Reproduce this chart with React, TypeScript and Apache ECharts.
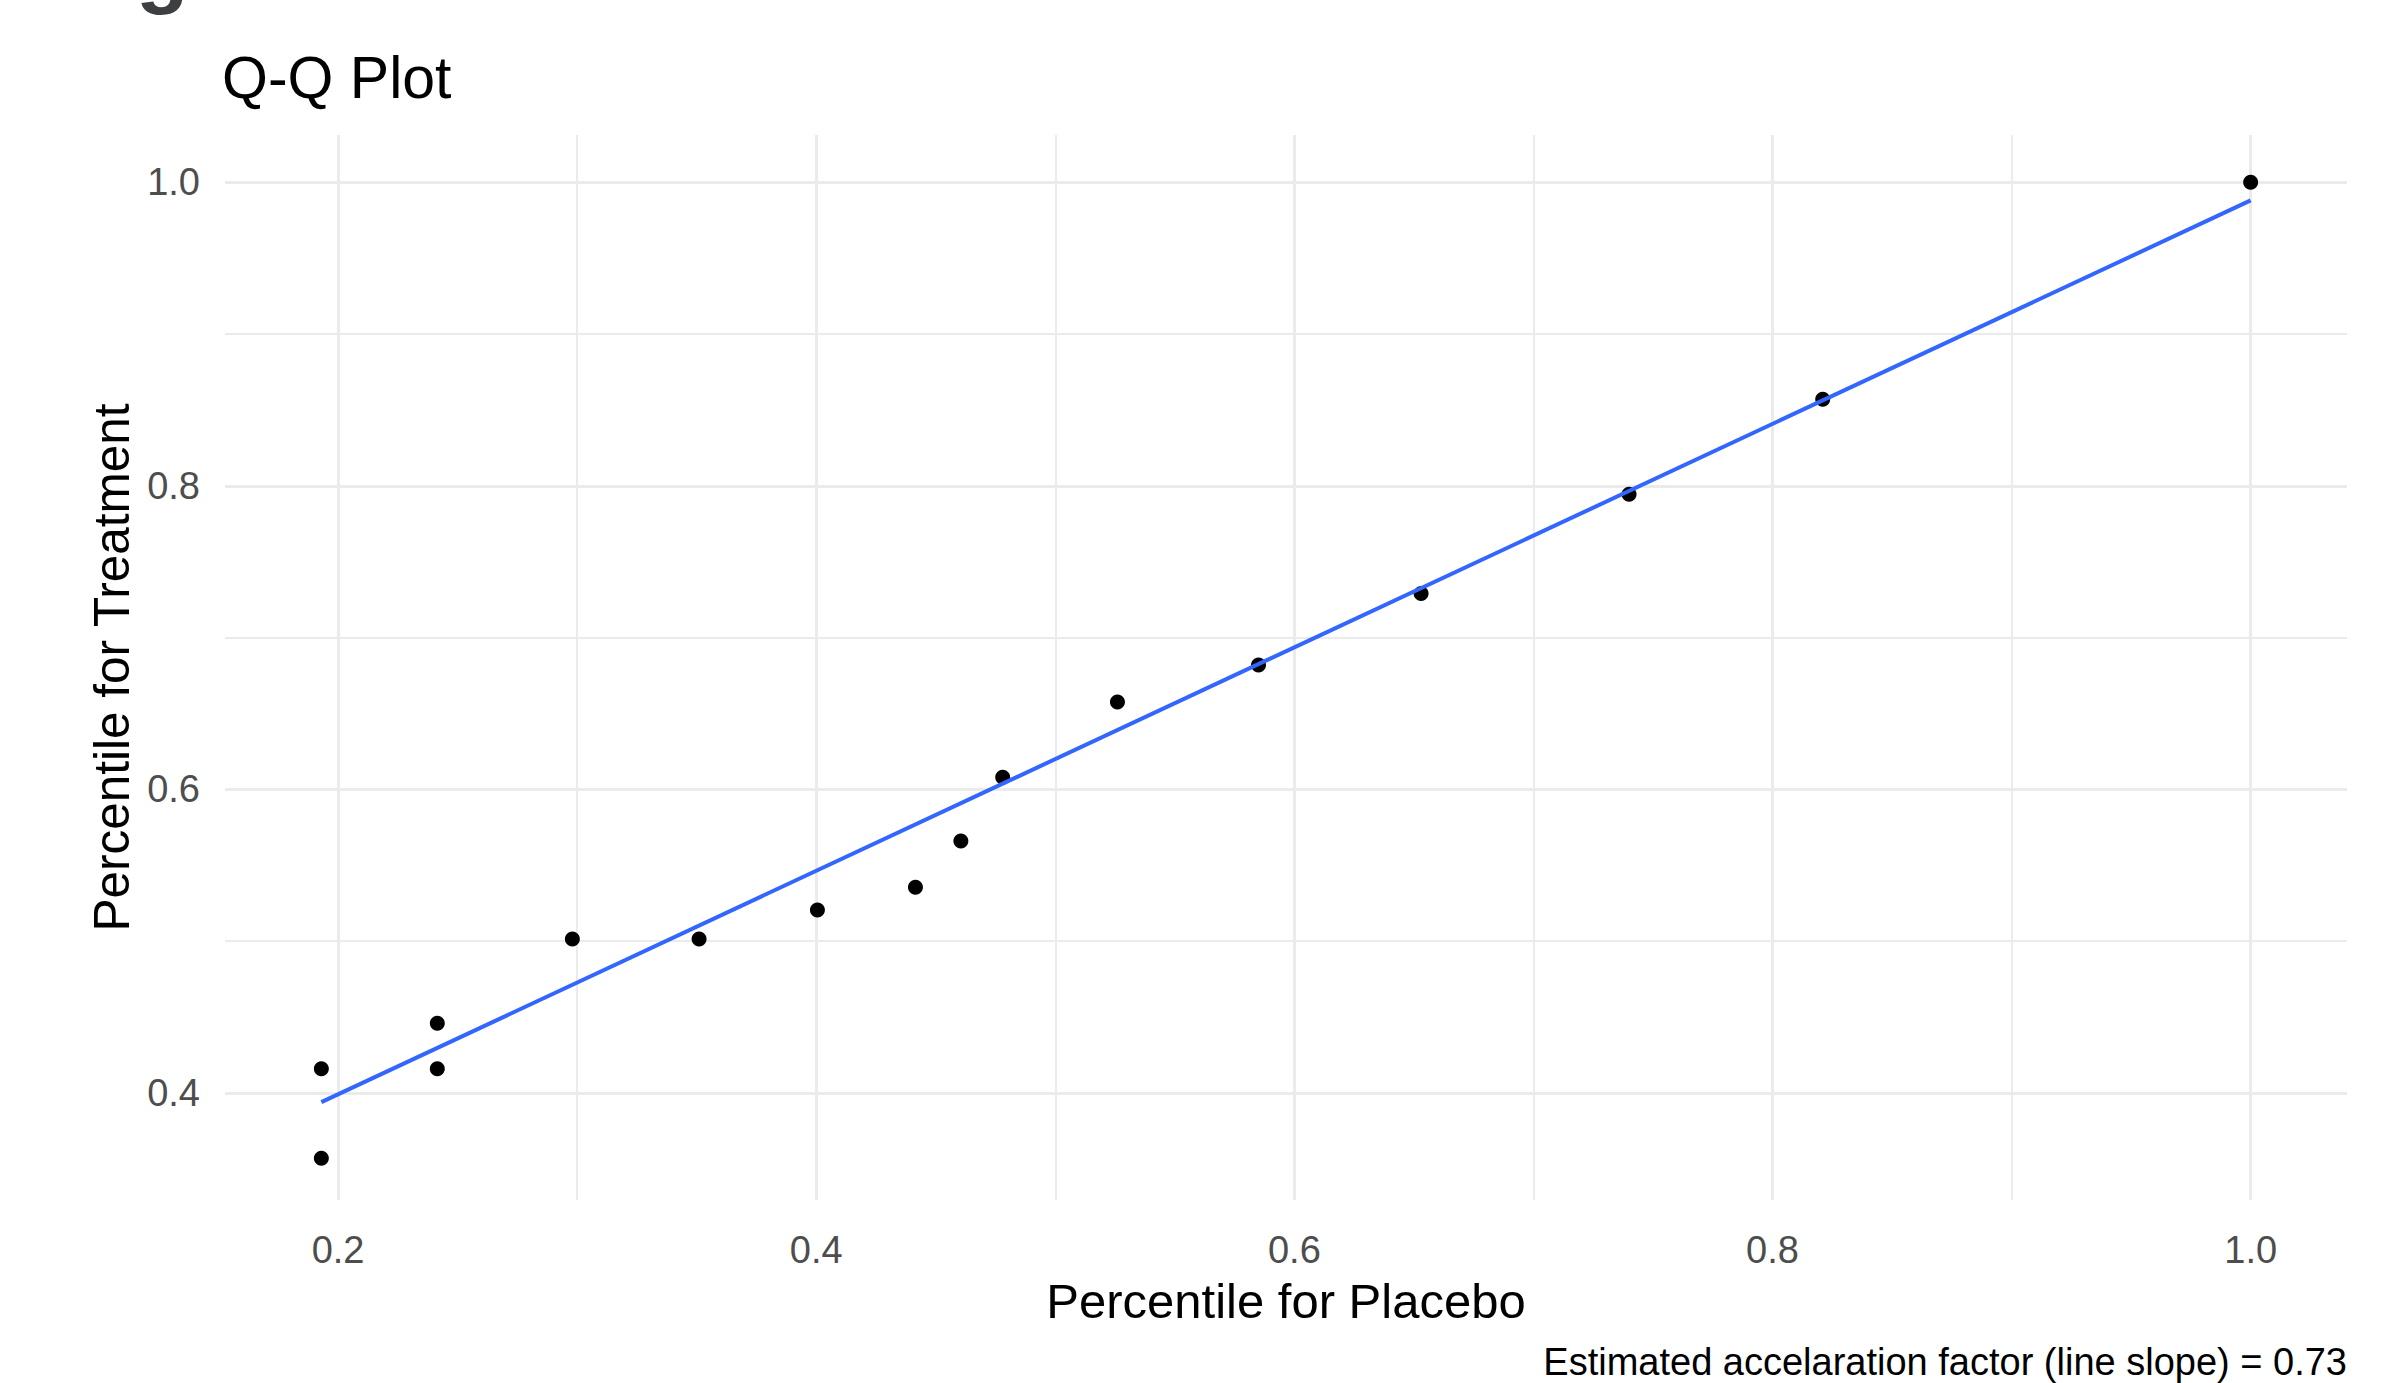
import React, { useEffect, useRef } from "react";
import * as echarts from "echarts";

// Data
const placeboPct = [0.193, 0.193, 0.2415, 0.2415, 0.298, 0.351, 0.4005, 0.4415, 0.4605, 0.478, 0.526, 0.585, 0.653, 0.74, 0.821, 1.0];
const treatmentPct = [0.416, 0.357, 0.446, 0.416, 0.5015, 0.5015, 0.5205, 0.5355, 0.566, 0.608, 0.6575, 0.682, 0.729, 0.7945, 0.857, 1.0];
const fitX = [0.193, 1.0];
const fitY = [0.394, 0.988];
const xMajorTicks = [0.2, 0.4, 0.6, 0.8, 1.0];
const xMinorTicks = [0.3, 0.5, 0.7, 0.9];
const yMajorTicks = [0.4, 0.6, 0.8, 1.0];
const yMinorTicks = [0.5, 0.7, 0.9];
const xRange = [0.1527, 1.0403];
const yRange = [0.3295, 1.0311];

const FONT = "'Liberation Sans', Arial, Helvetica, sans-serif";
const GRID_COLOR = "#EBEBEB";

export default function App() {
  const ref = useRef<HTMLDivElement>(null);

  useEffect(() => {
    if (!ref.current) return;
    const chart = echarts.init(ref.current, null, { renderer: "svg" });

    const gridLines = [
      ...xMajorTicks.map((v) => ({ xAxis: v, lineStyle: { color: GRID_COLOR, width: 3, type: "solid" } })),
      ...xMinorTicks.map((v) => ({ xAxis: v, lineStyle: { color: GRID_COLOR, width: 2, type: "solid" } })),
      ...yMajorTicks.map((v) => ({ yAxis: v, lineStyle: { color: GRID_COLOR, width: 3, type: "solid" } })),
      ...yMinorTicks.map((v) => ({ yAxis: v, lineStyle: { color: GRID_COLOR, width: 2, type: "solid" } })),
    ];

    const option: any = {
      animation: false,
      backgroundColor: "#ffffff",
      title: [
        {
          text: "Q-Q Plot",
          left: 222,
          top: 48,
          textStyle: { fontFamily: FONT, fontSize: 59, fontWeight: "normal", color: "#000000" },
          padding: 0,
        },
        {
          text: "Estimated accelaration factor (line slope) = 0.73",
          right: 50,
          top: 1343,
          textStyle: { fontFamily: FONT, fontSize: 38, fontWeight: "normal", color: "#000000" },
          padding: 0,
        },
      ],
      graphic: [
        {
          type: "text",
          left: 136,
          top: -76,
          silent: true,
          style: {
            text: "g",
            fontFamily: FONT,
            fontSize: 86,
            fontWeight: "bold",
            fill: "#3c4043",
          },
        },
      ],
      grid: {
        left: 225,
        right: 50,
        top: 135,
        bottom: 183,
        containLabel: false,
        outerBoundsMode: "none",
      },
      xAxis: {
        type: "value",
        min: xRange[0],
        max: xRange[1],
        name: "Percentile for Placebo",
        nameLocation: "middle",
        nameGap: 101,
        nameTextStyle: { fontFamily: FONT, fontSize: 49, color: "#000000", verticalAlign: "middle" },
        axisLine: { show: false },
        axisTick: { show: false },
        splitLine: { show: false },
        axisLabel: {
          customValues: xMajorTicks,
          formatter: (v: number) => v.toFixed(1),
          fontFamily: FONT,
          fontSize: 38,
          color: "#4D4D4D",
          margin: 31,
        },
      },
      yAxis: {
        type: "value",
        min: yRange[0],
        max: yRange[1],
        name: "Percentile for Treatment",
        nameLocation: "middle",
        nameGap: 112,
        nameRotate: 90,
        nameTextStyle: { fontFamily: FONT, fontSize: 49.5, color: "#000000", verticalAlign: "middle" },
        axisLine: { show: false },
        axisTick: { show: false },
        splitLine: { show: false },
        axisLabel: {
          customValues: yMajorTicks,
          formatter: (v: number) => v.toFixed(1),
          fontFamily: FONT,
          fontSize: 38,
          color: "#4D4D4D",
          margin: 25,
        },
      },
      series: [
        {
          type: "scatter",
          name: "points",
          z: 2,
          symbol: "circle",
          symbolSize: 15,
          itemStyle: { color: "#000000", opacity: 1 },
          data: placeboPct.map((x, i) => [x, treatmentPct[i]]),
          silent: true,
        },
        {
          type: "line",
          name: "fit",
          z: 3,
          showSymbol: false,
          symbol: "none",
          lineStyle: { color: "#3366FF", width: 4 },
          data: fitX.map((x, i) => [x, fitY[i]]),
          silent: true,
          markLine: {
            z: 1,
            silent: true,
            symbol: ["none", "none"],
            label: { show: false },
            emphasis: { disabled: true },
            animation: false,
            data: gridLines,
          },
        },
      ],
    };

    chart.setOption(option);
    return () => chart.dispose();
  }, []);

  return (
    <div
      ref={ref}
      style={{ position: "absolute", left: 0, top: 0, width: 2397, height: 1383 }}
    />
  );
}
